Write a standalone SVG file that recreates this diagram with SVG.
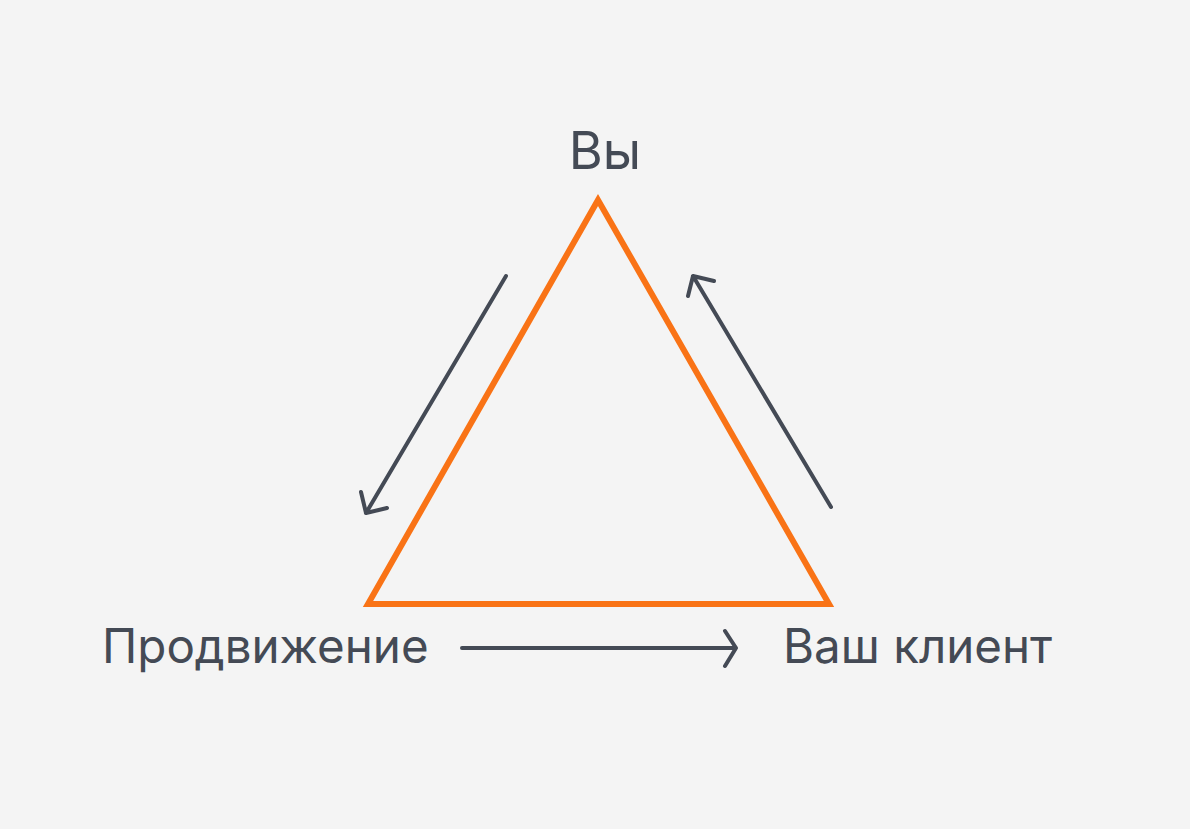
<svg xmlns="http://www.w3.org/2000/svg" width="1190" height="829" viewBox="0 0 1190 829">
<style>
.lbl{font-family:Inter,"Liberation Sans",sans-serif;font-size:47.5px;fill:#444a55}
.arr{fill:none;stroke:#444a55;stroke-width:4;stroke-linecap:round;stroke-linejoin:round}
</style>
<rect width="1190" height="829" fill="#f4f4f4"/>
<g id="triangle"><polygon points="598,200 368,604 829,604" fill="none" stroke="#f97316" stroke-width="6"/></g>
<g id="node-you"><text class="lbl" x="605" y="169" text-anchor="middle" style="font-size:52px">Вы</text></g>
<g id="node-promo"><text class="lbl" x="102" y="663">Продвижение</text></g>
<g id="node-client"><text class="lbl" x="783" y="663">Ваш клиент</text></g>
<g id="connectors">
<path class="arr" d="M506,276 L366,513 M361,492 L366,513 L387,508"/>
<path class="arr" d="M831,507 L693,276 M688,296 L693,276 L714,281"/>
<path class="arr" d="M462,648 L736,648 M725,631 L736,648 L725,666"/>
</g>
</svg>
